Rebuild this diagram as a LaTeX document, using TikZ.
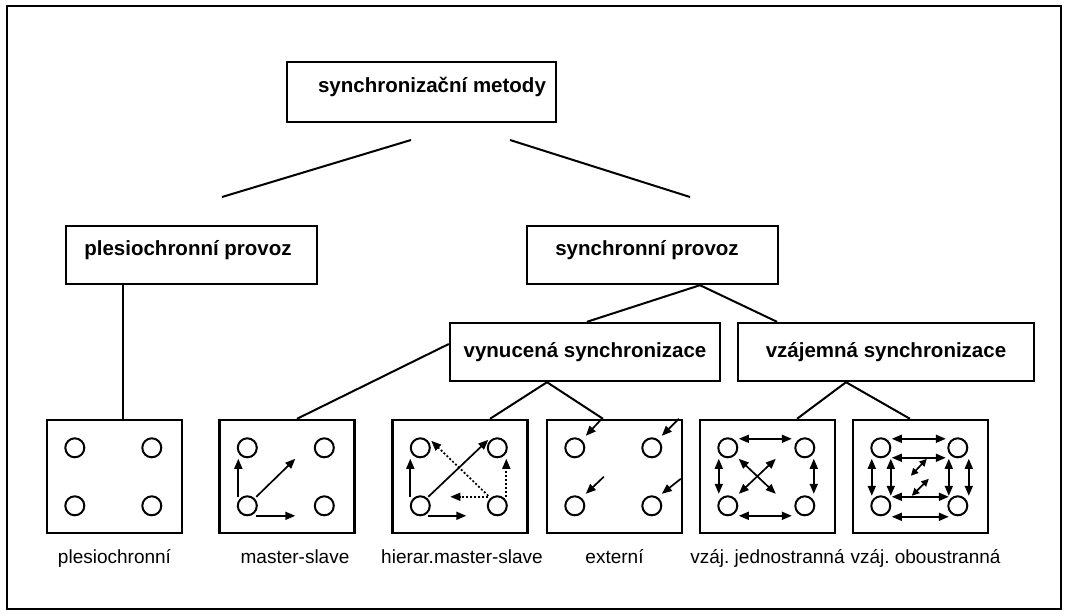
\documentclass[tikz,border=0pt]{standalone}
\usepackage{fontspec}
\setmainfont{Liberation Sans}
\usetikzlibrary{arrows.meta}
\frenchspacing

\begin{document}
\begin{tikzpicture}[x=1pt,y=-1pt,
  box/.style={draw,line width=2.4pt,minimum width=#1,minimum height=58pt,inner sep=0pt},
  pict/.style={draw,line width=2.4pt,minimum width=135pt,minimum height=113pt,inner sep=0pt},
  link/.style={line width=2pt},
  head/.style={font=\fontsize{20.5}{24}\selectfont\bfseries},
  lbl/.style={font=\fontsize{19}{24}\selectfont,anchor=base},
  arr/.style={line width=1.7pt,-{Triangle[length=10pt,width=8pt]}},
  darr/.style={line width=1.7pt,{Triangle[length=10pt,width=8pt]}-{Triangle[length=10pt,width=8pt]}},
  sdarr/.style={line width=1.7pt,{Triangle[length=7.5pt,width=7pt]}-{Triangle[length=7.5pt,width=7pt]}},
  dots/.style={arr,dash pattern=on 2pt off 2pt}]
\useasboundingbox (0,0) rectangle (1069,616);
\draw[line width=1.6pt] (7,6) rectangle (1061,609);

% upper levels
\node[box=269pt,minimum height=60pt] (methods) at (421.5,92) {};
\node[head] (methods-t) at (432,87) {synchronizační metody};
\node[box=251pt] (plesprov) at (191.5,255) {};
\node[head] (plesprov-t) at (188,250) {plesiochronní provoz};
\node[box=251pt] (synprov) at (652.5,255) {};
\node[head] (synprov-t) at (647,250) {synchronní provoz};
\node[box=270pt,head] (forced) at (585,352) {vynucená synchronizace};
\node[box=296pt,head] (mutual) at (886,352) {vzájemná synchronizace};

% pictograms
\node[pict] (plesbox) at (114.5,476.5) {};
\node[pict] (msbox) at (287,476.5) {};
\node[pict] (hierbox) at (460,476.5) {};
\node[pict] (extbox) at (614.5,476.5) {};
\node[pict] (jednbox) at (767.5,476.5) {};
\node[pict] (oboubox) at (920.5,476.5) {};

\node[lbl] at ([yshift=-29pt]plesbox.south) {plesiochronní};
\node[lbl] at ([xshift=8pt,yshift=-29pt]msbox.south) {master-slave};
\node[lbl] at ([xshift=2pt,yshift=-29pt]hierbox.south) {hierar.master-slave};
\node[lbl] at ([yshift=-29pt]extbox.south) {externí};
\node[lbl] at ([xshift=0pt,yshift=-29pt]jednbox.south) {vzáj. jednostranná};
\node[lbl] at ([xshift=5pt,yshift=-29pt]oboubox.south) {vzáj. oboustranná};

% connectors
\coordinate (mL) at (411,140);
\coordinate (pL) at (222,197);
\coordinate (mR) at (510,140);
\coordinate (pR) at (690,197);
\draw[link] (mL) -- (pL);
\draw[link] (mR) -- (pR);
\draw[link] ([xshift=8.5pt]plesbox.north) -- ([xshift=8.5pt]plesbox.north |- plesprov.south);
\draw[link] ([xshift=47.5pt]synprov.south) -- ([xshift=2pt]forced.north);
\draw[link] ([xshift=47.5pt]synprov.south) -- ([xshift=-109pt]mutual.north);
\draw[link] ([yshift=8pt]forced.west) -- ([xshift=10pt]msbox.north);
\draw[link] ([xshift=-38pt]forced.south) -- ([xshift=30pt]hierbox.north);
\draw[link] ([xshift=-38pt]forced.south) -- ([xshift=-11.5pt]extbox.north);
\draw[link] ([xshift=-40pt]mutual.south) -- ([xshift=29.5pt]jednbox.north);
\draw[link] ([xshift=-40pt]mutual.south) -- ([xshift=-10.5pt]oboubox.north);

% stations
\foreach \bx in {plesbox,msbox,hierbox,extbox,jednbox,oboubox}
  \foreach \cx/\cy in {29/29,106/29,29/87,106/87}
    \draw[line width=2pt] ([xshift=\cx pt,yshift=-\cy pt]\bx.north west) circle (9.5pt);

\begin{scope}[shift={(msbox.north west)}]
\draw[arr] (20,78) -- (20,40);
\draw[arr] (38,78) -- (77,40);
\draw[arr] (38,97) -- (77,97);
\end{scope}

\begin{scope}[shift={(hierbox.north west)}]
\draw[arr] (19,78) -- (19,40);
\draw[arr] (37,78) -- (97,21);
\draw[dots] (97,77) -- (40,22);
\draw[dots] (97,78) -- (59,78);
\draw[dots] (115,78) -- (115,40);
\draw[arr] (37,97) -- (75,97);
\end{scope}

\begin{scope}[shift={(extbox.north west)}]
\draw[arr] (56,0) -- (40,17);
\draw[arr] (133,0) -- (116,17);
\draw[arr] (58,58) -- (40,75);
\draw[arr] (135,60) -- (116,75);
\end{scope}

\begin{scope}[shift={(jednbox.north west)}]
\draw[darr] (40,20) -- (93,20);
\draw[darr] (20,40) -- (20,75);
\draw[darr] (115,40) -- (115,75);
\draw[darr] (40,40) -- (77,75);
\draw[darr] (77,40) -- (40,75);
\draw[darr] (40,97) -- (93,97);
\end{scope}

\begin{scope}[shift={(oboubox.north west)}]
\draw[darr] (40,20) -- (94,20);
\draw[darr] (40,39) -- (94,39);
\draw[darr] (40,78) -- (97,78);
\draw[darr] (40,98) -- (97,98);
\draw[darr] (20,40) -- (20,77);
\draw[darr] (39,40) -- (39,77);
\draw[darr] (97,40) -- (97,77);
\draw[darr] (117,40) -- (117,77);
\draw[sdarr] (59,57) -- (75,40);
\draw[sdarr] (60,77) -- (77,60);
\end{scope}
\end{tikzpicture}
\end{document}
